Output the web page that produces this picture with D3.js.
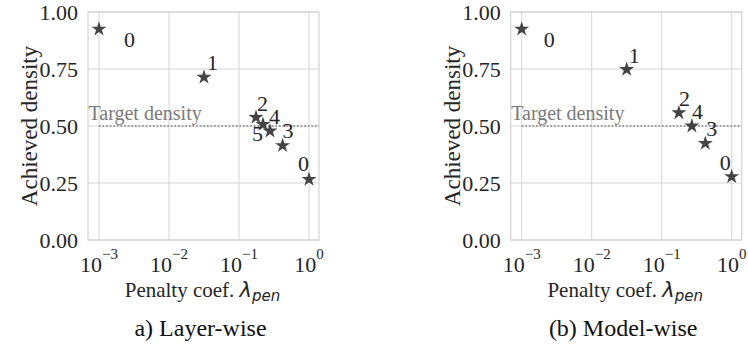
<!DOCTYPE html>
<html>
<head>
<meta charset="utf-8">
<script src="https://cdn.jsdelivr.net/npm/d3@7"></script>
<style>
  body { margin: 0; background: #fff; font-family: "Liberation Serif", "Times New Roman"; }
  svg text { font-family: "Liberation Serif", "Times New Roman" !important; }
  svg text tspan.math { font-family: "DejaVu Sans" !important; font-style: italic; }
</style>
</head>
<body>
<div id="container"></div>
<script>
// penalty coefficients and achieved densities
const layerLambda  = [0.001, 0.0316, 0.175, 0.22, 0.277, 0.42, 1.0];
const layerDensity = [0.925, 0.714, 0.538, 0.507, 0.478, 0.414, 0.266];
const layerLabels  = ['0', '1', '2', '5', '4', '3', '0'];

const modelLambda  = [0.001, 0.0316, 0.176, 0.27, 0.42, 1.0];
const modelDensity = [0.925, 0.748, 0.558, 0.500, 0.424, 0.278];
const modelLabels  = ['0', '1', '2', '4', '3', '0'];

const yTicks = [0, 0.25, 0.5, 0.75, 1.0];
const xTickExp = [-3, -2, -1, 0];
const targetDensity = 0.5;

// label offsets (px) from each star
const layerOffsets = [[25, 18], [3, -7], [1, -6], [-11, 17], [-1, -7], [0, -8], [-11, -8]];
const modelOffsets = [[22, 18], [2, -6], [0, -7], [0, -7], [1, -7], [-12, -7]];

const width = 748;
const height = 347;

const svg = d3.select('#container')
              .append('svg')
              .attr('width', width)
              .attr('height', height);

function drawPanel(left, lambdas, densities, labels, offsets, caption) {
    const plotW = 231;
    const top = 12;
    const bottom = 240;

    const g = svg.append('g');

    // log x scale, ~70px per decade
    const xScale = d3.scaleLog()
                     .domain([Math.pow(10, -3.157), Math.pow(10, 0.143)])
                     .range([left, left + plotW]);

    const yScale = d3.scaleLinear()
                     .domain([0, 1])
                     .range([bottom, top]);

    // grid
    g.selectAll('.vgrid')
     .data(xTickExp)
     .enter()
     .append('line')
     .attr('x1', d => xScale(Math.pow(10, d)))
     .attr('x2', d => xScale(Math.pow(10, d)))
     .attr('y1', top)
     .attr('y2', bottom)
     .attr('stroke', '#d4d4d4')
     .attr('stroke-width', 1);

    g.selectAll('.hgrid')
     .data(yTicks)
     .enter()
     .append('line')
     .attr('x1', left)
     .attr('x2', left + plotW)
     .attr('y1', d => yScale(d))
     .attr('y2', d => yScale(d))
     .attr('stroke', '#d4d4d4')
     .attr('stroke-width', 1);

    // frame
    g.append('rect')
     .attr('x', left)
     .attr('y', top)
     .attr('width', plotW)
     .attr('height', bottom - top)
     .attr('fill', 'none')
     .attr('stroke', '#d4d4d4')
     .attr('stroke-width', 1.2);

    // y tick labels
    g.selectAll('.ylab')
     .data(yTicks)
     .enter()
     .append('text')
     .attr('x', left - 10)
     .attr('y', d => yScale(d) + 7.5)
     .attr('text-anchor', 'end')
     .attr('font-size', 22)
     .attr('fill', '#262626')
     .text(d => d.toFixed(2));

    // x tick labels with superscripts
    const xl = g.selectAll('.xlab')
                .data(xTickExp)
                .enter()
                .append('text')
                .attr('x', d => xScale(Math.pow(10, d)))
                .attr('y', 272)
                .attr('text-anchor', 'middle')
                .attr('font-size', 22)
                .attr('fill', '#262626');
    xl.append('tspan').text('10');
    xl.append('tspan')
      .attr('dy', -13)
      .attr('font-size', 15)
      .text(d => d < 0 ? '\u2212' + (-d) : d);

    // target density line
    g.append('line')
     .attr('x1', xScale(1e-3))
     .attr('x2', left + plotW)
     .attr('y1', yScale(targetDensity))
     .attr('y2', yScale(targetDensity))
     .attr('stroke', '#808080')
     .attr('stroke-width', 1.6)
     .attr('stroke-dasharray', '1.6,2');

    g.append('text')
     .attr('x', left + 0.5)
     .attr('y', yScale(targetDensity) - 6)
     .attr('font-size', 20)
     .attr('fill', '#7a7a7a')
     .text('Target density');

    // stars
    const star = d3.symbol().type(d3.symbolStar).size(70);
    g.selectAll('.pt')
     .data(lambdas)
     .enter()
     .append('path')
     .attr('d', star)
     .attr('transform', (d, i) => `translate(${xScale(d)},${yScale(densities[i])})`)
     .attr('fill', '#444444');

    // point labels
    g.selectAll('.plab')
     .data(labels)
     .enter()
     .append('text')
     .attr('x', (d, i) => xScale(lambdas[i]) + offsets[i][0])
     .attr('y', (d, i) => yScale(densities[i]) + offsets[i][1])
     .attr('font-size', 22)
     .attr('fill', '#262626')
     .text(d => d);

    // axis titles
    g.append('text')
     .attr('transform', `translate(${left - 51},${(top + bottom) / 2}) rotate(-90)`)
     .attr('text-anchor', 'middle')
     .attr('font-size', 23)
     .attr('fill', '#262626')
     .text('Achieved density');

    const xt = g.append('text')
                .attr('x', left + plotW / 2 - 1)
                .attr('y', 297)
                .attr('text-anchor', 'middle')
                .attr('font-size', 21)
                .attr('fill', '#262626');
    xt.append('tspan').text('Penalty coef. ');
    xt.append('tspan')
      .attr('class', 'math')
      .text('\u03bb');
    xt.append('tspan')
      .attr('class', 'math')
      .attr('font-size', 15)
      .attr('dy', 4)
      .text('pen');

    g.append('text')
     .attr('x', left + plotW / 2 - 3)
     .attr('y', 336)
     .attr('text-anchor', 'middle')
     .attr('font-size', 24)
     .attr('fill', '#111')
     .text(caption);
}

drawPanel(88, layerLambda, layerDensity, layerLabels, layerOffsets, 'a) Layer-wise');
drawPanel(510.7, modelLambda, modelDensity, modelLabels, modelOffsets, '(b) Model-wise');
</script>
</body>
</html>
